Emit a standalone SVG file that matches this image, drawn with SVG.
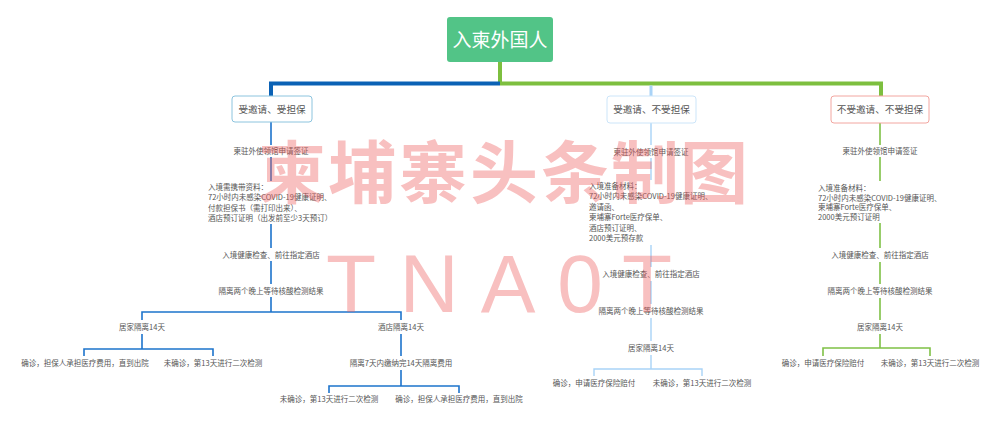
<svg xmlns="http://www.w3.org/2000/svg" width="1000" height="426" viewBox="0 0 1000 426">
<style>
text{font-family:"Noto Sans CJK SC","Microsoft YaHei",sans-serif;}
.s{font-size:7.5px;fill:#555;}
.c{text-anchor:middle;}
.lb{font-size:9.6px;fill:#555;text-anchor:middle;}
.box{fill:#fff;stroke-width:1;}
.lineL{stroke:#1d74cc;stroke-width:1.6;fill:none;}
.lineM{stroke:#a9d3f7;stroke-width:1.4;fill:none;}
.lineR{stroke:#7fc146;stroke-width:1.6;fill:none;}
.wm{fill:#ef5b5b;opacity:0.38;text-anchor:middle;}
</style>
<rect width="1000" height="426" fill="#fff"/>
<g id="connectors">
<path d="M500 62V83.5" stroke="#7dbf3f" stroke-width="4" fill="none"/>
<path d="M271 96V83.5H500" stroke="#0b62b5" stroke-width="4" fill="none"/>
<path d="M500 83.5H881V96" stroke="#7dbf3f" stroke-width="4" fill="none"/>
<path d="M651 85.5V96" stroke="#a9d3f7" stroke-width="3" fill="none"/>
<path class="lineL" d="M271 122V145M271 157V181M271 224V248M271 261V284M271 297V312M142 320V312H401V320M142 334V349M84 356V349H213V356M401 334V356M401 370V386M329 393V386H459V393"/>
<path class="lineM" d="M651 123V145M651 158V180M651 245V267M651 281V304M651 318V341M651 355V369M594 376V369H702V376"/>
<path class="lineR" d="M880 123V145M880 157V181M880 223V248M880 262V284M880 298V320M880 334V348M823 356V348H930V356"/>
</g>
<g id="root">
<rect x="447" y="17" width="106" height="45" rx="3" fill="#52c487"/>
<text x="500" y="47" font-size="19" fill="#fff" text-anchor="middle">入柬外国人</text>
</g>
<g id="n-left">
<rect class="box" x="232" y="96" width="80" height="26" rx="3" stroke="#8cc4de"/>
<text class="lb" x="272" y="112.5">受邀请、受担保</text>
</g>
<g id="n-mid">
<rect class="box" x="607" y="96" width="89" height="27" rx="3" stroke="#cce5f9"/>
<text class="lb" x="651.5" y="113">受邀请、不受担保</text>
</g>
<g id="n-right">
<rect class="box" x="831" y="96" width="98" height="27" rx="3" stroke="#f2a6a0"/>
<text class="lb" x="880" y="113">不受邀请、不受担保</text>
</g>
<g id="left-steps">
<text class="s c" x="271" y="153.8">柬驻外使领馆申请签证</text>
<text class="s" x="208" y="189.8">入境需携带资料：</text>
<text class="s" x="208" y="200.2">72小时内未感染COVID-19健康证明、</text>
<text class="s" x="208" y="210.6">付款担保书（需打印出来）、</text>
<text class="s" x="208" y="221">酒店预订证明（出发前至少3天预订）</text>
<text class="s c" x="271" y="257.8">入境健康检查、前往指定酒店</text>
<text class="s c" x="271" y="293.8">隔离两个晚上等待核酸检测结果</text>
</g>
<g id="left-home">
<text class="s c" x="142" y="329.8">居家隔离14天</text>
<text class="s c" x="85" y="365.8">确诊，担保人承担医疗费用，直到出院</text>
<text class="s c" x="213" y="365.8">未确诊，第13天进行二次检测</text>
</g>
<g id="left-hotel">
<text class="s c" x="401" y="329.8">酒店隔离14天</text>
<text class="s c" x="401" y="365.8">隔离7天内缴纳完14天隔离费用</text>
<text class="s c" x="329" y="401.8">未确诊，第13天进行二次检测</text>
<text class="s c" x="459" y="401.8">确诊，担保人承担医疗费用，直到出院</text>
</g>
<g id="mid-steps">
<text class="s c" x="651" y="154.8">柬驻外使领馆申请签证</text>
<text class="s" x="589" y="188.8">入境准备材料：</text>
<text class="s" x="589" y="199.3">72小时内未感染COVID-19健康证明、</text>
<text class="s" x="589" y="209.8">邀请函、</text>
<text class="s" x="589" y="220.3">柬埔寨Forte医疗保单、</text>
<text class="s" x="589" y="230.8">酒店预订证明、</text>
<text class="s" x="589" y="241.3">2000美元预存款</text>
<text class="s c" x="651" y="276.8">入境健康检查、前往指定酒店</text>
<text class="s c" x="651" y="313.8">隔离两个晚上等待核酸检测结果</text>
<text class="s c" x="651" y="350.8">居家隔离14天</text>
<text class="s c" x="594" y="385.8">确诊，申请医疗保险赔付</text>
<text class="s c" x="702" y="385.8">未确诊，第13天进行二次检测</text>
</g>
<g id="right-steps">
<text class="s c" x="880" y="153.8">柬驻外使领馆申请签证</text>
<text class="s" x="818" y="190.5">入境准备材料：</text>
<text class="s" x="818" y="200.5">72小时内未感染COVID-19健康证明、</text>
<text class="s" x="818" y="210.3">柬埔寨Forte医疗保单、</text>
<text class="s" x="818" y="220">2000美元预订证明</text>
<text class="s c" x="880" y="257.8">入境健康检查、前往指定酒店</text>
<text class="s c" x="880" y="293.8">隔离两个晚上等待核酸检测结果</text>
<text class="s c" x="880" y="329.8">居家隔离14天</text>
<text class="s c" x="823" y="365.8">确诊，申请医疗保险赔付</text>
<text class="s c" x="930" y="365.8">未确诊，第13天进行二次检测</text>
</g>
<g id="watermark">
<text class="wm" x="292 362 433 504 575 645 714" y="198" font-size="68" font-weight="700">柬埔寨头条制图</text>
<text class="wm" x="351 429 508 580 647" y="312" font-size="82" style="font-family:'Liberation Sans',sans-serif">TNA0T</text>
</g>
</svg>
